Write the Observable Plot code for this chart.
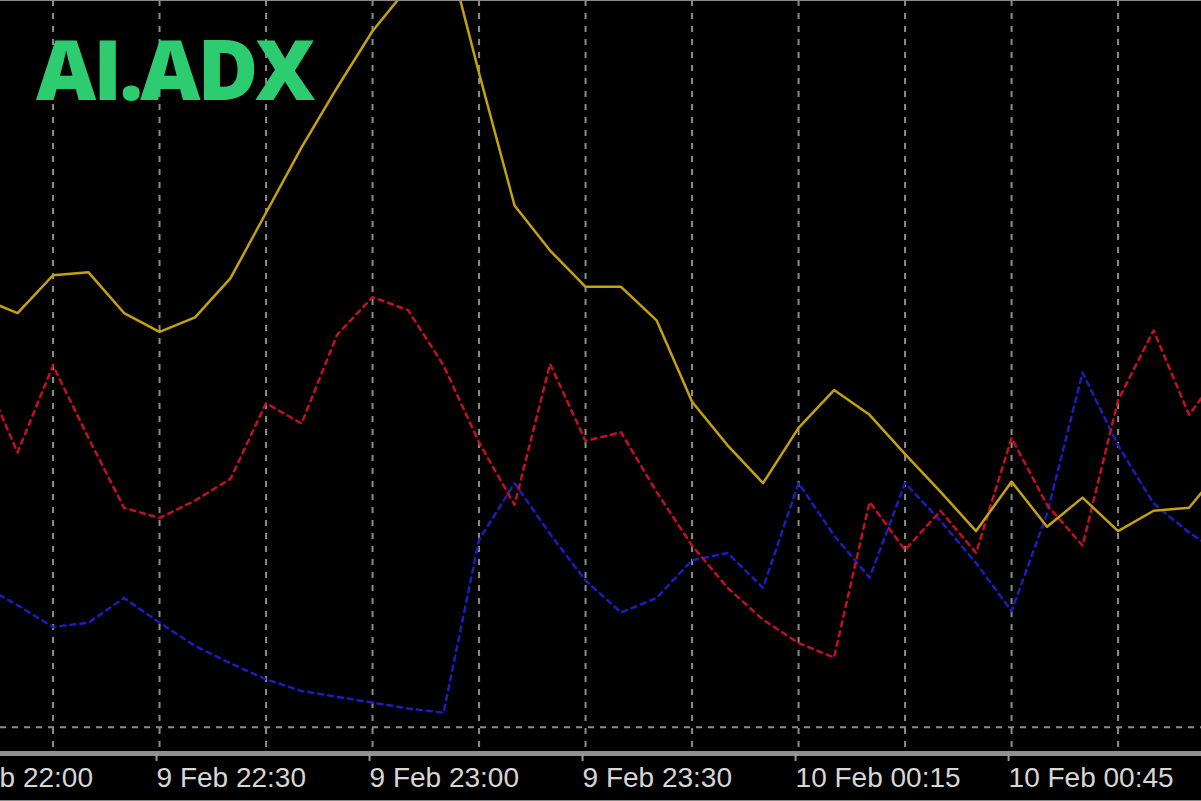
<!DOCTYPE html>
<html>
<head>
<meta charset="utf-8">
<script src="https://cdn.jsdelivr.net/npm/d3@7"></script>
<script src="https://cdn.jsdelivr.net/npm/@observablehq/plot@0.6"></script>
<style>
  html, body { margin: 0; padding: 0; background: #000; overflow: hidden; }
  #wrap { position: relative; width: 1201px; height: 801px; background: #000; }
  #title {
    position: absolute; left: 36px; top: 26px; margin: 0;
    font-family: "Open Sans", sans-serif; font-weight: 800; font-size: 83px;
    line-height: 1; color: #2ecc71; letter-spacing: -3px;
  }
  #edge { position: absolute; left: 0; top: 0; width: 1201px; height: 801px; box-sizing: border-box;
    border-top: 1px solid #8a8a8a; border-bottom: 1px solid #8a8a8a; pointer-events: none; }
  svg { display: block; }
</style>
</head>
<body>
<div id="wrap">
  <div id="chart"></div>
  <div id="title">AI.ADX</div>
  <div id="edge"></div>
</div>
<script>
// bar index (5-minute bars)
const bars = [1,2,3,4,5,6,7,8,9,10,11,12,13,14,15,16,17,18,19,20,21,22,23,24,25,26,27,28,29,30,31,32,33,34,35,36];
// ADX main line (gold)
const adx = [49.5,48.5,51.1,51.3,48.5,47.2,48.2,50.9,55.4,59.9,64.0,67.9,70.9,74.5,65.0,55.9,52.8,50.3,50.3,48.0,42.4,39.4,36.8,40.6,43.2,41.5,38.8,36.2,33.5,36.9,33.8,35.8,33.5,34.9,35.1,38.1];
// red dotted directional line
const diRed = [44.6,38.9,44.9,39.9,35.1,34.4,35.6,37.1,42.3,40.9,47.0,49.6,48.7,44.9,39.6,35.3,45.0,39.7,40.3,36.2,32.5,29.6,27.4,25.8,24.8,35.5,32.2,34.9,32.0,39.9,35.3,32.5,42.5,47.3,41.5,44.8];
// blue dotted directional line
const diBlue = [29.8,28.4,26.9,27.2,28.9,27.2,25.6,24.4,23.3,22.5,22.1,21.7,21.3,21.0,32.9,36.8,33.3,30.1,27.9,28.9,31.5,32.0,29.6,36.8,33.2,30.3,36.8,34.2,31.3,28.0,34.7,44.4,39.4,35.4,33.4,31.8];
// time axis labels
const tickBars = [0,6,12,18,24,30];
const tickLabels = ["9 Feb 22:00","9 Feb 22:30","9 Feb 23:00","9 Feb 23:30","10 Feb 00:15","10 Feb 00:45"];
const gridBars = [3,6,9,12,15,18,21,24,27,30,33];
const levels = [20];

const rows = (vals) => bars.map((b, i) => ({t: b, v: vals[i]}));
const labelOf = new Map(tickBars.map((b, i) => [b, tickLabels[i]]));

const chart = Plot.plot({
  width: 1201,
  height: 801,
  marginLeft: 0,
  marginRight: 0,
  marginTop: 0,
  marginBottom: 48,
  style: {background: "#000", color: "#d6d6d6", fontFamily: "Liberation Sans, Arial, sans-serif", fontSize: "28px", overflow: "visible"},
  x: {type: "linear", domain: [1.52, 35.35], axis: null, label: null},
  y: {domain: [18.2, 70], axis: null, label: null},
  marks: [
    Plot.ruleX(gridBars, {stroke: "#8c8c8c", strokeWidth: 2, strokeDasharray: "6,7"}),
    Plot.ruleY(levels, {stroke: "#8c8c8c", strokeWidth: 2, strokeDasharray: "6,6"}),
    Plot.line(rows(diBlue), {x: "t", y: "v", stroke: "#1c1cc0", strokeWidth: 2.5, strokeDasharray: "5,5", clip: true}),
    Plot.line(rows(diRed), {x: "t", y: "v", stroke: "#c41020", strokeWidth: 2.5, strokeDasharray: "5,5", clip: true}),
    Plot.line(rows(adx), {x: "t", y: "v", stroke: "#c4a20a", strokeWidth: 2.5, clip: true}),
    Plot.ruleY([18.2], {stroke: "#8f8f8f", strokeWidth: 5}),
    Plot.axisX(tickBars, {
      tickSize: 8, tickPadding: 6, textAnchor: "start", dx: -3,
      stroke: "#9a9a9a", strokeWidth: 2, fill: "#d6d6d6", label: null,
      tickFormat: (d) => labelOf.get(d)
    })
  ]
});
document.getElementById("chart").appendChild(chart);
</script>
</body>
</html>
